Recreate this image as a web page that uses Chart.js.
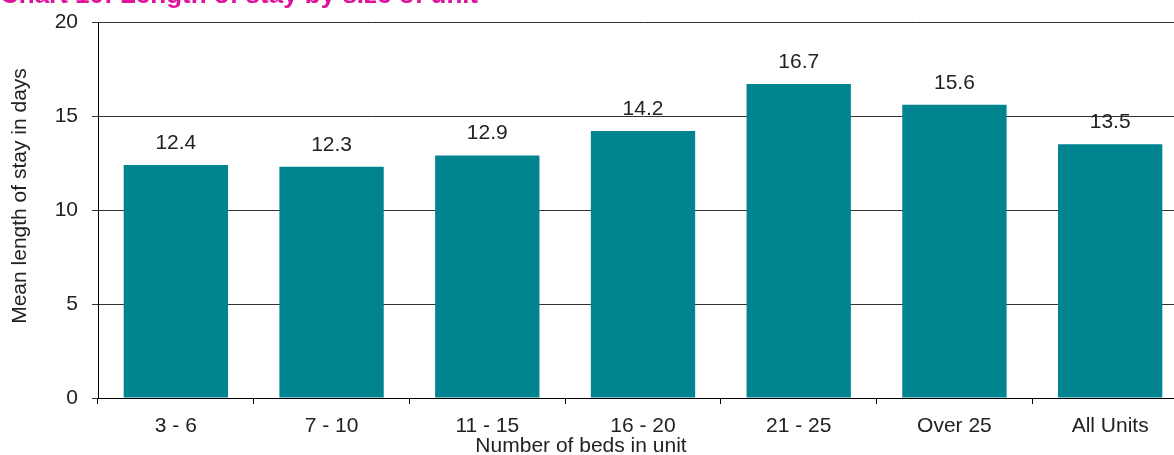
<!DOCTYPE html>
<html>
<head>
<meta charset="utf-8">
<script src="https://cdn.jsdelivr.net/npm/chart.js@4/dist/chart.umd.min.js"></script>
<style>
  html, body { margin: 0; padding: 0; overflow: hidden; background: #fff; }
  #wrap { position: absolute; left: 0; top: 0; width: 1188px; height: 455px; }
  #title {
    position: absolute; left: 0; top: -21px; line-height: 30px;
    font: bold 26px "Liberation Sans", Arial, sans-serif;
    color: #e0119a; white-space: nowrap;
  }
</style>
</head>
<body>
<div id="wrap">
  <canvas id="chart" width="1188" height="455"></canvas>
  <div id="title">Chart 10: Length of stay by size of unit</div>
</div>
<script>
// Mean length of stay (days) by number of beds in unit
let unitSizes = ["3 - 6", "7 - 10", "11 - 15", "16 - 20", "21 - 25", "Over 25", "All Units"];
let meanStay = [12.4, 12.3, 12.9, 14.2, 16.7, 15.6, 13.5];
let yTicks = [0, 5, 10, 15, 20];
let xTitle = "Number of beds in unit";
let yTitle = "Mean length of stay in days";

const FONT = "Liberation Sans, Arial, sans-serif";
const TEXT = "#222";

// Writes the value above each bar
const barLabels = {
  id: 'barLabels',
  afterDatasetsDraw(chart) {
    let ctx = chart.ctx;
    let meta = chart.getDatasetMeta(0);
    ctx.save();
    ctx.font = "21px " + FONT;
    ctx.fillStyle = TEXT;
    ctx.textAlign = "center";
    ctx.textBaseline = "alphabetic";
    meta.data.forEach((bar, i) => {
      ctx.fillText(meanStay[i].toFixed(1), bar.x, bar.y - 16);
    });
    ctx.restore();
  }
};

// Axis titles, placed by hand (the plot runs off the right edge)
const axisTitles = {
  id: 'axisTitles',
  afterDraw(chart) {
    let ctx = chart.ctx;
    ctx.save();
    ctx.font = "21px " + FONT;
    ctx.fillStyle = TEXT;
    ctx.textAlign = "center";
    ctx.textBaseline = "middle";
    ctx.fillText(xTitle, 581, 446);
    ctx.translate(20, 196);
    ctx.rotate(-Math.PI / 2);
    ctx.fillText(yTitle, 0, 0);
    ctx.restore();
  }
};

let ctx = document.getElementById('chart').getContext('2d');
new Chart(ctx, {
  type: 'bar',
  data: {
    labels: unitSizes,
    datasets: [{
      data: meanStay,
      backgroundColor: '#008490',
      borderWidth: 0,
      barPercentage: 0.67,
      categoryPercentage: 1.0
    }]
  },
  options: {
    responsive: false,
    animation: false,
    layout: { padding: { top: 22, right: 0, left: 0, bottom: 0 } },
    plugins: {
      legend: { display: false },
      tooltip: { enabled: false }
    },
    scales: {
      x: {
        offset: true,
        grid: { offset: true, drawOnChartArea: false, tickLength: 6, color: '#000' },
        border: { color: '#000', width: 1 },
        ticks: { color: TEXT, font: { family: FONT, size: 21 }, padding: 10, maxRotation: 0 },
        afterFit(scale) {
          scale.height = 57;
          scale.paddingLeft = 0;
          scale.paddingRight = 0;
        }
      },
      y: {
        min: 0, max: 20,
        afterBuildTicks(scale) { scale.ticks = yTicks.map(v => ({ value: v })); },
        grid: { color: '#333', tickLength: 6, lineWidth: 1 },
        border: { color: '#000', width: 1 },
        ticks: { color: TEXT, font: { family: FONT, size: 21 }, padding: 14 },
        afterFit(scale) {
          scale.width = 98;
          scale.paddingTop = 0;
          scale.paddingBottom = 0;
        }
      }
    }
  },
  plugins: [barLabels, axisTitles]
});
</script>
</body>
</html>
